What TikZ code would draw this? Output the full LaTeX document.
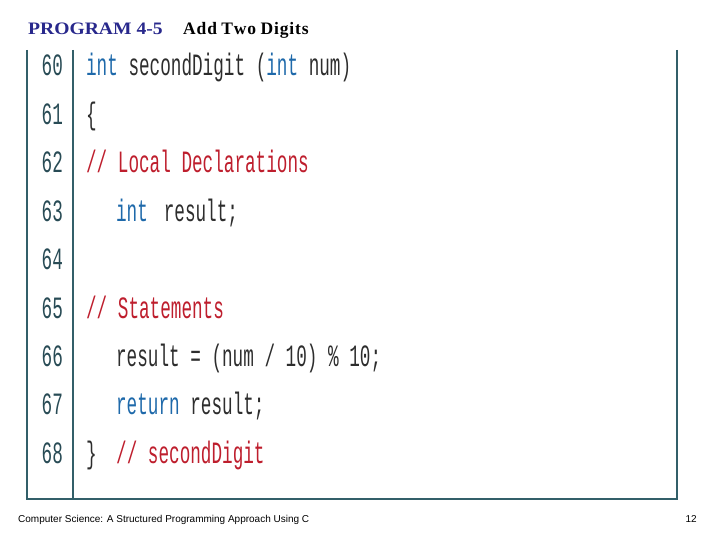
\documentclass[tikz,border=0pt]{standalone}
\usepackage{fontspec}
\setmainfont{Liberation Serif}
\newfontfamily\codef{Liberation Mono}
\newfontfamily\footf{Liberation Sans}
\definecolor{kw}{RGB}{30,105,170}
\definecolor{cm}{RGB}{190,30,45}
\definecolor{tx}{RGB}{45,45,45}
\definecolor{ln}{RGB}{40,75,85}
\definecolor{fr}{RGB}{50,95,105}
\definecolor{navy}{RGB}{40,40,140}
\begin{document}
\begin{tikzpicture}[x=1pt,y=-1pt,
  code/.style={anchor=base west,inner sep=0,font=\codef\fontsize{31}{31}\selectfont,xscale=0.57,text=tx},
  num/.style={anchor=base east,inner sep=0,font=\codef\fontsize{31}{31}\selectfont,xscale=0.57,text=ln}]
\useasboundingbox (0,0) rectangle (720,540);
\node[anchor=base west,inner sep=0,xscale=1.12,font=\bfseries\fontsize{17.5}{17.5}\selectfont] (title) at (28,35) {\textcolor{navy}{PROGRAM 4-5}};
\node[anchor=base west,inner sep=0,font=\bfseries\fontsize{17.5}{17.5}\selectfont] (title2) at (183,35) {A\hspace{0.05em}d\hspace{0.05em}d T\hspace{0.05em}w\hspace{0.05em}o D\hspace{0.05em}i\hspace{0.05em}g\hspace{0.05em}i\hspace{0.05em}t\hspace{0.05em}s};
\draw[fr,line width=1.5pt] (27,50) coordinate (a) -- (27,499) coordinate (b);
\draw[fr,line width=1.2pt] (73,50) coordinate (c) -- (73,499) coordinate (d);
\draw[fr,line width=1.5pt] (677,50) coordinate (e) -- (677,499) coordinate (f);
\draw[fr,line width=2.2pt] (26,499) coordinate (g) -- (678,499) coordinate (h);
\foreach \n [count=\i from 0] in {60,...,68}
  \node[num] (n\n) at (63,{76+48.4*\i}) {\n};
\node[code] (l60) at (86,76) {\textcolor{kw}{int} secondDigit (\textcolor{kw}{int} num)};
\node[code] (l61) at (86,124.4) {\{};
\node[code] (l62) at (86,172.8) {\textcolor{cm}{// Local Declarations}};
\node[code] (l63) at (116,221.2) {\textcolor{kw}{int}\hspace{0.3em} result;};
\node[code] (l65) at (86,318) {\textcolor{cm}{// Statements}};
\node[code] (l66) at (116,366.4) {result = (num / 10) \% 10;};
\node[code] (l67) at (116,414.8) {\textcolor{kw}{return} result;};
\node[code] (l68) at (86,463.2) {\}\hspace{0.5em} \textcolor{cm}{// secondDigit}};
\node[anchor=base west,inner sep=0,font=\footf\fontsize{10}{10}\selectfont] (foot) at (18,522) {Computer Science: A Structured Programming Approach Using C};
\node[anchor=base east,inner sep=0,font=\footf\fontsize{10}{10}\selectfont] (pg) at (697,522) {12};
\end{tikzpicture}
\end{document}
